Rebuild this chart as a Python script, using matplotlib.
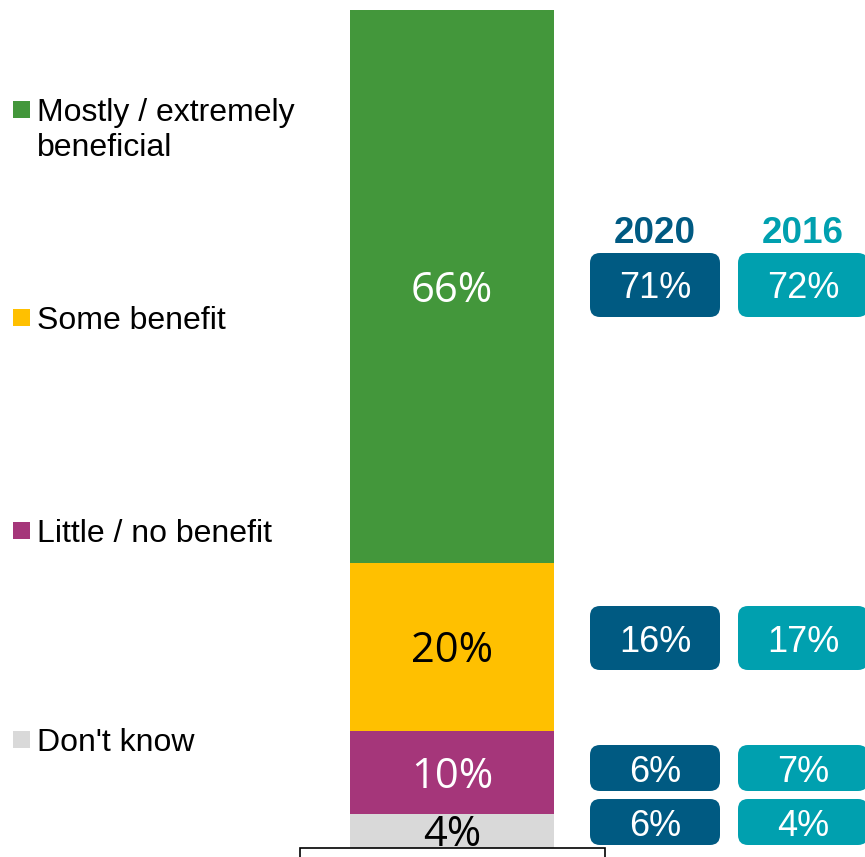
import matplotlib
matplotlib.use("Agg")
import matplotlib.pyplot as plt
from matplotlib.patches import FancyBboxPatch, Rectangle

# ---- data ----
categories = ["Mostly / extremely\nbeneficial", "Some benefit", "Little / no benefit", "Don't know"]
values_current = [66, 20, 10, 4]
values_2020 = [71, 16, 6, 6]
values_2016 = [72, 17, 7, 4]
years = ["2020", "2016"]

# ---- style ----
seg_colors = ["#43973B", "#FFC000", "#A5367A", "#D9D9D9"]
seg_text_colors = ["white", "black", "white", "black"]
year_colors = ["#005A82", "#00A0AF"]

W, H = 865, 857
DPI = 100
PT = 72 / DPI  # points per pixel
fig = plt.figure(figsize=(W / DPI, H / DPI), dpi=DPI)
ax = fig.add_axes([0, 0, 1, 1])
ax.set_axis_off()

PX_PER_PCT = 8.38
BASE_PX = 848  # pixel row of 0%


def py2v(py):
    return (BASE_PX - py) / PX_PER_PCT


ax.set_xlim(0, W)
ax.set_ylim(py2v(H), py2v(0))

# ---- stacked bar ----
bar_x, bar_w = 452, 204
bottom = 0
order = list(range(len(categories)))[::-1]  # bottom-up: Don't know first
for i in order:
    v = values_current[i]
    ax.bar(bar_x, v, width=bar_w, bottom=bottom, color=seg_colors[i], zorder=2)
    ax.annotate(f"{v}%", (bar_x, bottom + v / 2), xytext=(0, -15 * PT),
                textcoords="offset points", ha="center", va="baseline",
                color=seg_text_colors[i], fontsize=30, family="Open Sans", zorder=3)
    bottom += v

# white box at the bottom
ax.add_patch(Rectangle((300, py2v(H + 20)), 305, py2v(848) - py2v(H + 20),
                       facecolor="white", edgecolor="black", lw=1.2, zorder=4))

# ---- legend ----
legend_baselines = [121, 329, 542, 751]
line_gap = 35
for i, cat in enumerate(categories):
    yb = legend_baselines[i]
    ax.add_patch(Rectangle((13, py2v(yb - 3)), 17, 17 / PX_PER_PCT,
                           facecolor=seg_colors[i], edgecolor="none"))
    for k, line in enumerate(cat.split("\n")):
        ax.text(37, py2v(yb + k * line_gap), line, ha="left", va="baseline", fontsize=23,
                family="Liberation Sans", color="black")

# ---- comparison boxes ----
box_lefts = [590, 738]
box_width = [130, 130]
box_centers_px = [285, 638, 768, 822]
box_heights_px = [64, 64, 46, 46]
series = [values_2020, values_2016]
for j, yr in enumerate(years):
    cx = box_lefts[j] + box_width[j] / 2
    ax.text(cx, py2v(243), yr, ha="center", va="baseline", fontsize=26.5,
            fontweight="bold", family="Liberation Sans", color=year_colors[j])
    for i, v in enumerate(series[j]):
        cy = box_centers_px[i]
        h = box_heights_px[i]
        ax.add_patch(FancyBboxPatch((box_lefts[j], py2v(cy + h / 2)), box_width[j], h / PX_PER_PCT,
                                    boxstyle="round,pad=0,rounding_size=10",
                                    mutation_aspect=1 / PX_PER_PCT,
                                    facecolor=year_colors[j], edgecolor="none", zorder=2))
        ax.text(cx, py2v(cy + 13.5), f"{v}%", ha="center", va="baseline", color="white",
                fontsize=26, family="Liberation Sans", zorder=3)

fig.savefig("out.png", dpi=DPI)
